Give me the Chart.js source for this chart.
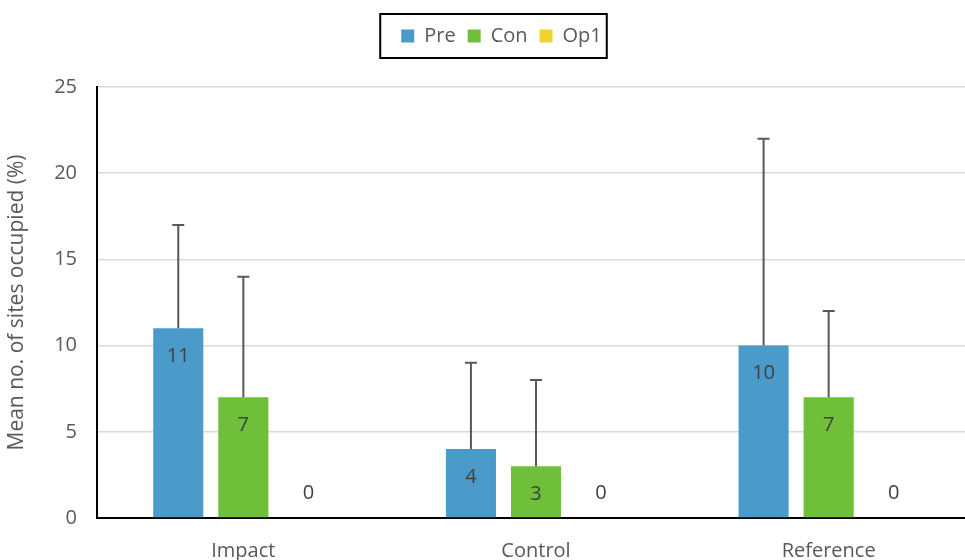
<!DOCTYPE html>
<html>
<head>
<meta charset="utf-8">
<script src="https://cdn.jsdelivr.net/npm/chart.js@4"></script>
<style>
  html, body { margin: 0; padding: 0; background: #fff; overflow: hidden; }
  #wrap { width: 975px; height: 560px; }
</style>
</head>
<body>
<div id="wrap"><canvas id="siteChart"></canvas></div>
<script>
    // Chart values
    const categories = ["Impact", "Control", "Reference"];
    const seriesNames = ["Pre", "Con", "Op1"];
    const preValues = [11, 4, 10];
    const conValues = [7, 3, 7];
    const op1Values = [0, 0, 0];
    const preErrors = [6, 5, 12];
    const conErrors = [7, 5, 5];
    const op1Errors = [0, 0, 0];
    const yTicks = [0, 5, 10, 15, 20, 25];

    const textColor = "#595959";
    const fontFamily = "'Open Sans', 'Liberation Sans', sans-serif";

    // Draw upward error bars with caps
    const errorBars = {
      id: "errorBars",
      afterDatasetsDraw(chart) {
        const ctx = chart.ctx;
        const y = chart.scales.y;
        ctx.save();
        ctx.strokeStyle = textColor;
        ctx.lineWidth = 2;
        chart.data.datasets.forEach((ds, i) => {
          chart.getDatasetMeta(i).data.forEach((bar, j) => {
            const err = ds.errors[j];
            if (!err) return;
            const top = y.getPixelForValue(ds.data[j] + err);
            ctx.beginPath();
            ctx.moveTo(bar.x, bar.y);
            ctx.lineTo(bar.x, top);
            ctx.moveTo(bar.x - 6, top);
            ctx.lineTo(bar.x + 6, top);
            ctx.stroke();
          });
        });
        ctx.restore();
      }
    };

    // Value labels inside the bars (or above when zero)
    const valueLabels = {
      id: "valueLabels",
      afterDatasetsDraw(chart) {
        const ctx = chart.ctx;
        ctx.save();
        ctx.fillStyle = "#404040";
        ctx.font = "20px " + fontFamily;
        ctx.textAlign = "center";
        ctx.textBaseline = "middle";
        chart.data.datasets.forEach((ds, i) => {
          chart.getDatasetMeta(i).data.forEach((bar, j) => {
            const v = ds.data[j];
            const ly = v === 0 ? bar.y - 25 : bar.y + 28;
            ctx.fillText(String(v), bar.x, ly);
          });
        });
        ctx.restore();
      }
    };

    // Fixed legend height, so the plot starts where the reference does
    const legendHeight = {
      id: "legendHeight",
      beforeInit(chart) {
        const fit = chart.legend.fit;
        chart.legend.fit = function () {
          fit.bind(chart.legend)();
          this.height = 73;
        };
      },
      afterUpdate(chart) {
        // legend sits a little right of centre in the reference
        const l = chart.legend;
        l.left += 14;
        l.right += 14;
        l.adjustHitBoxes();
      }
    };

    // Black frame around the legend
    const legendFrame = {
      id: "legendFrame",
      afterDraw(chart) {
        const boxes = chart.legend.legendHitBoxes;
        if (!boxes || !boxes.length) return;
        const first = boxes[0];
        const last = boxes[boxes.length - 1];
        const ctx = chart.ctx;
        ctx.save();
        ctx.strokeStyle = "#000";
        ctx.lineWidth = 2;
        ctx.strokeRect(first.left - 21, 14, last.left + last.width - first.left + 26, 44);
        ctx.restore();
      }
    };

    const ctx = document.getElementById("siteChart").getContext("2d");
    const chart = new Chart(ctx, {
      type: "bar",
      data: {
        labels: categories,
        datasets: [
          { label: seriesNames[0], data: preValues, errors: preErrors, backgroundColor: "#4a9bca" },
          { label: seriesNames[1], data: conValues, errors: conErrors, backgroundColor: "#70bf3a" },
          { label: seriesNames[2], data: op1Values, errors: op1Errors, backgroundColor: "#f2d22e" }
        ]
      },
      options: {
        responsive: true,
        maintainAspectRatio: false,
        animation: false,
        layout: { padding: { top: 14, right: 0, left: 0, bottom: 0 } },
        datasets: {
          bar: { categoryPercentage: 0.667, barPercentage: 0.77 }
        },
        plugins: {
          tooltip: { enabled: false },
          legend: {
            position: "top",
            labels: {
              boxWidth: 13,
              boxHeight: 13,
              padding: 12,
              color: textColor,
              font: { size: 20, family: fontFamily }
            }
          }
        },
        scales: {
          x: {
            afterFit(axis) {
              axis.height = 42;
            },
            grid: { display: false },
            border: { color: "#000", width: 2 },
            ticks: {
              color: textColor,
              padding: 13,
              font: { size: 20, family: fontFamily }
            }
          },
          y: {
            min: 0,
            max: 25,
            afterBuildTicks(axis) {
              axis.ticks = yTicks.map(v => ({ value: v }));
            },
            afterFit(axis) {
              axis.width = 97;
            },
            grid: { color: "#d9d9d9", lineWidth: 1.5, drawTicks: false },
            border: { color: "#000", width: 2 },
            ticks: {
              color: textColor,
              padding: 20,
              font: { size: 20, family: fontFamily }
            },
            title: {
              display: true,
              text: "Mean no. of sites occupied (%)",
              color: textColor,
              font: { size: 21, family: fontFamily }
            }
          }
        }
      },
      plugins: [legendHeight, errorBars, valueLabels, legendFrame]
    });
</script>
</body>
</html>
